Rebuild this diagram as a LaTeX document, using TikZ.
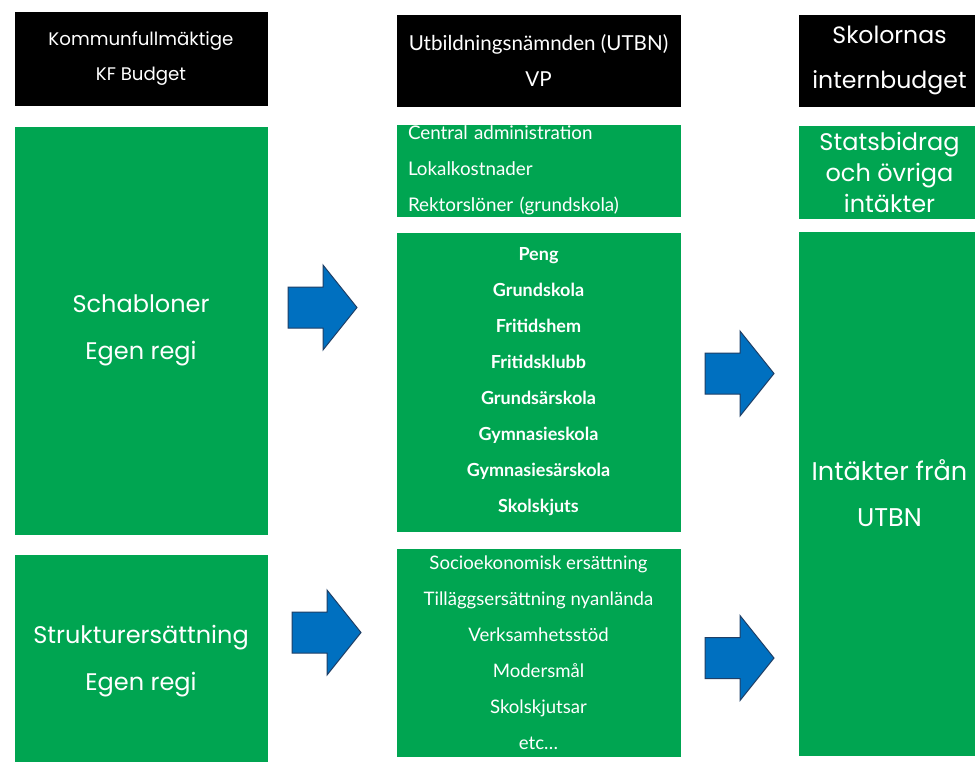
\documentclass[tikz,border=0pt]{standalone}
\usepackage{fontspec}
\setmainfont{Poppins}
\newfontfamily\gillfont{Lato}
\usetikzlibrary{positioning,shadows}
\definecolor{boxgreen}{HTML}{00A551}
\definecolor{arrowblue}{HTML}{0070C0}
\definecolor{arrowedge}{HTML}{1F3F66}

\tikzset{
  panel/.style={rectangle, draw=white, line width=1.5pt, inner sep=0pt, text=white,
    drop shadow={shadow xshift=0.8pt, shadow yshift=-1pt, opacity=0.35}},
  head/.style={panel, fill=black},
  money/.style={panel, fill=boxgreen},
  blockarr/.pic={\draw[fill=arrowblue, draw=arrowedge, line width=0.5pt]
    (0,-20.5) -- (35,-20.5) -- (35,-42.5) -- (69,0) -- (35,42.5) -- (35,20.5) -- (0,20.5) -- cycle;}
}

\begin{document}
\begin{tikzpicture}[x=0.5pt,y=-0.5pt]
  \useasboundingbox[fill=white] (0,0) rectangle (975,761);

  % kommunfullmaktige
  \node[head, minimum width=128pt, minimum height=48.5pt, align=center,
    font=\fontsize{9.1}{17.5}\selectfont] (kf) at (141,58.5) {Kommunfullmäktige\\KF Budget};
  \node[money, minimum width=128pt, minimum height=205.5pt, align=center,
    font=\fontsize{12}{23.5}\selectfont] (schab) at (141,330.5) {Schabloner\\Egen regi};
  \node[money, minimum width=128pt, minimum height=108pt, align=center,
    font=\fontsize{12}{23.5}\selectfont] (struk) at (141,661) {Strukturersättning\\Egen regi};

  % utbildningsnamnden
  \node[head, minimum width=143.5pt, minimum height=47.5pt, align=center,
    font=\gillfont\fontsize{10.3}{18}\selectfont] (utbn) at (538.5,60.5) {Utbildningsnämnden (UTBN)\\VP};
  \node[money, minimum width=143.5pt, minimum height=47.5pt, align=left, text width=130.5pt,
    font=\gillfont\fontsize{9.4}{18}\selectfont] (admin) at (538.5,170.5)
    {Central administration\\Lokalkostnader\\Rektorslöner (grundskola)};
  \node[money, minimum width=143.5pt, minimum height=151pt, align=center,
    font=\gillfont\bfseries\fontsize{9}{18}\selectfont] (peng) at (538.5,382)
    {Peng\\Grundskola\\Fritidshem\\Fritidsklubb\\Grundsärskola\\Gymnasieskola\\Gymnasiesärskola\\Skolskjuts};
  \node[money, minimum width=143.5pt, minimum height=105.5pt, align=center,
    font=\gillfont\fontsize{9.3}{18}\selectfont] (socio) at (538.5,652.5)
    {Socioekonomisk ersättning\\Tilläggsersättning nyanlända\\Verksamhetsstöd\\Modersmål\\Skolskjutsar\\etc…};

  % skolorna
  \node[head, minimum width=92.5pt, minimum height=47.5pt, align=center,
    font=\fontsize{11.8}{22.5}\selectfont] (skol) at (889.5,60.5) {Skolornas\\internbudget};
  \node[money, minimum width=92.5pt, minimum height=48pt, align=center,
    font=\fontsize{12}{15.5}\selectfont] (stats) at (889.5,172) {Statsbidrag\\och övriga\\intäkter};
  \node[money, minimum width=92.5pt, minimum height=263.5pt, align=center,
    font=\fontsize{12.8}{23}\selectfont] (intakt) at (889.5,493.5) {Intäkter från\\UTBN};

  % block arrows
  \pic at (288,307.5) {blockarr};
  \pic at (292,632.5) {blockarr};
  \pic at (705,373.5) {blockarr};
  \pic at (705,658) {blockarr};
\end{tikzpicture}
\end{document}
